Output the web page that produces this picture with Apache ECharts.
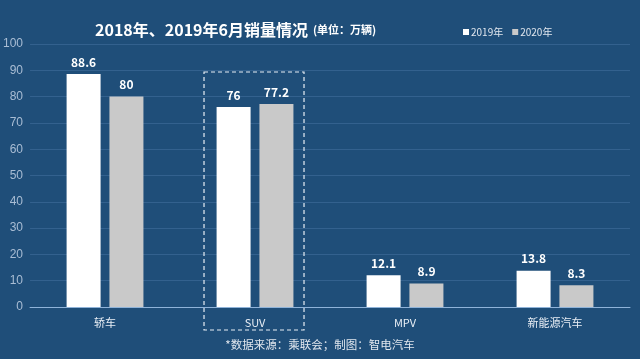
<!DOCTYPE html>
<html><head><meta charset="utf-8">
<script src="https://cdn.jsdelivr.net/npm/echarts@6/dist/echarts.min.js"></script>
<style>html,body{margin:0;padding:0;background:#1f4e79;}#c{width:640px;height:359px;}</style>
</head><body><div id="c"></div>
<script>
const categories = ['轿车', 'SUV', 'MPV', '新能源汽车'];
const series2019 = [88.6, 76, 12.1, 13.8];
const series2020 = [80, 77.2, 8.9, 8.3];
const seriesNames = ['2019年', '2020年'];
const yTicks = [0, 10, 20, 30, 40, 50, 60, 70, 80, 90, 100];

const chart = echarts.init(document.getElementById('c'), null, {renderer: 'canvas'});
const labelStyle = {show: true, position: 'top', color: '#ffffff', fontWeight: 'bold', fontSize: 12, fontFamily: 'Noto Sans CJK SC', distance: 6};
chart.setOption({
  backgroundColor: '#1f4e79',
  animation: false,
  title: {
    text: '{a|2018年、2019年6月销量情况} {b|(单位：万辆)}',
    left: 90, top: 16,
    textStyle: {
      rich: {
        a: {color: '#ffffff', fontSize: 16, fontWeight: 'bold', fontFamily: 'Noto Sans CJK SC'},
        b: {color: '#ffffff', fontSize: 11, fontWeight: 'bold', fontFamily: 'Noto Sans CJK SC'}
      }
    }
  },
  legend: {
    data: seriesNames,
    left: 458, top: 22,
    itemWidth: 6, itemHeight: 6, itemGap: 9,
    icon: 'rect',
    textStyle: {color: '#e0e6ee', fontSize: 10, fontFamily: 'Noto Sans CJK SC', padding: [0, 0, 0, -3]}
  },
  grid: {left: 30, right: 10, top: 44, bottom: 52, containLabel: false},
  xAxis: {
    type: 'category', data: categories,
    axisLine: {lineStyle: {color: '#8fb3d9', width: 1}},
    axisTick: {show: false},
    axisLabel: {color: '#e8eef5', fontSize: 11, margin: 10, fontFamily: 'Noto Sans CJK SC'}
  },
  yAxis: {
    type: 'value', min: yTicks[0], max: yTicks[yTicks.length - 1], interval: 10,
    axisLine: {show: false}, axisTick: {show: false},
    axisLabel: {color: '#a9bdd4', fontSize: 12, margin: 7, fontFamily: 'Liberation Sans'},
    splitLine: {lineStyle: {color: '#33618e', width: 1}}
  },
  series: [
    {name: seriesNames[0], type: 'bar', data: series2019, barWidth: 34, barGap: '26%',
     itemStyle: {color: '#ffffff'}, label: labelStyle},
    {name: seriesNames[1], type: 'bar', data: series2020, barWidth: 34,
     itemStyle: {color: '#c9c9c9'}, label: labelStyle}
  ]
});

// annotation graphics positioned via the axis scales
const band = chart.convertToPixel({xAxisIndex: 0}, 'SUV');
chart.setOption({
  graphic: [
    {type: 'rect', shape: {x: band - 51, y: 72, width: 100, height: 258},
     style: {fill: 'none', stroke: '#e8eef5', lineWidth: 1.2, lineDash: [4, 3]}},
    {type: 'text', left: 'center', top: 339,
     style: {text: '*数据来源：乘联会；制图：智电汽车', fill: '#e0e6ee', fontSize: 11.5, fontFamily: 'Noto Sans CJK SC'}}
  ]
});
</script>
</body></html>
